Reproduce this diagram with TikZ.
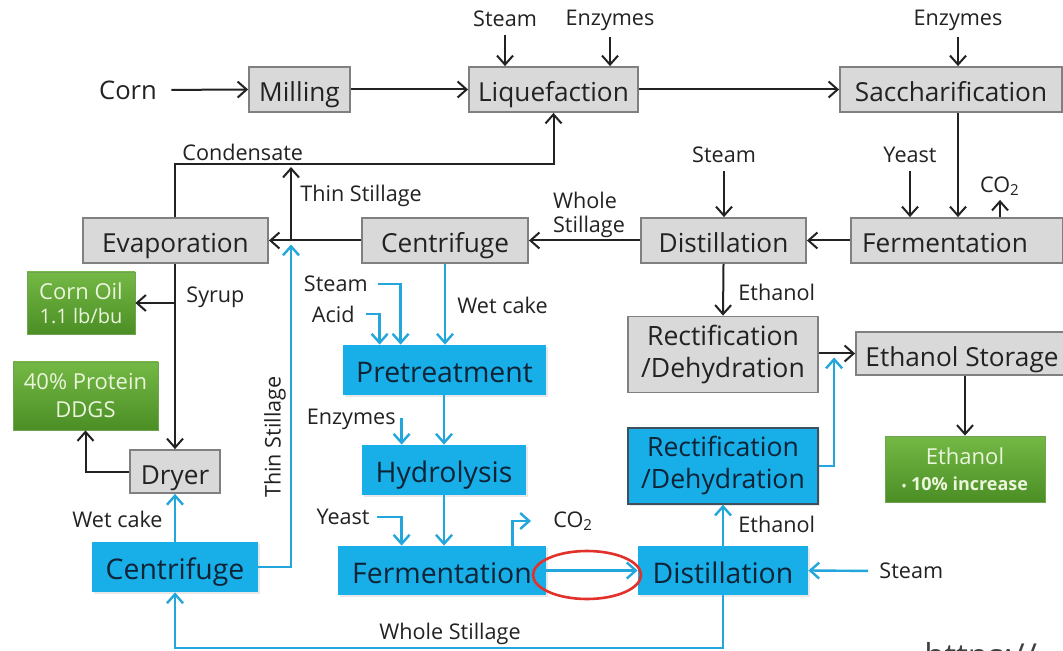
\documentclass[tikz,border=0pt]{standalone}
\usepackage{fontspec}
\setmainfont{Open Sans}
\usetikzlibrary{arrows.meta,calc,shadows}

\definecolor{boxgray}{HTML}{D9D9D9}
\definecolor{boxedge}{HTML}{808080}
\definecolor{procblue}{HTML}{18AEE8}
\definecolor{flowblue}{HTML}{22A6DC}
\definecolor{navytext}{HTML}{0E2436}
\definecolor{oiltop}{HTML}{74B845}
\definecolor{oilbot}{HTML}{4B8E25}
\definecolor{oiltext}{HTML}{EAF5DC}
\definecolor{inktext}{HTML}{222222}
\definecolor{ringred}{HTML}{E2302B}

\tikzset{
	wh/.style 2 args={minimum width=#1*0.5pt, minimum height=#2*0.5pt},
	oneline/.style={text height=12.5pt, text depth=0pt},
	graybox/.style={draw=boxedge, fill=boxgray, line width=0.9pt, inner sep=0pt, text=inktext, align=center, font=\fontsize{13.1}{16}\selectfont},
	bluebox/.style={fill=procblue, inner sep=0pt, text=navytext, align=center, font=\fontsize{14.2}{16}\selectfont, drop shadow={opacity=0.18, shadow xshift=0.8pt, shadow yshift=-0.8pt}},
	greenbox/.style={top color=oiltop, bottom color=oilbot, draw=oilbot!80!white, inner sep=0pt, text=oiltext, align=center, font=\fontsize{11}{14}\selectfont},
	lbl/.style={inner sep=0pt, text=inktext, font=\fontsize{10.8}{12}\selectfont},
	flow/.style={draw=inktext, line width=1pt, -{Straight Barb[length=4.5pt,width=8pt]}},
	bflow/.style={draw=flowblue, line width=1.2pt, -{Straight Barb[length=4.5pt,width=8pt]}},
}

\begin{document}
\begin{tikzpicture}[x=0.5pt, y=-0.5pt]
			%%%%% START %%%%%
			
			\fill[white] (0,0) rectangle (1063,651);
			\useasboundingbox (0,0) rectangle (1063,651);
			
			% dry grind line (grey)
			\node[lbl, font=\fontsize{12.8}{15}\selectfont] (corn) at (128,90) {Corn};
			\node[graybox, oneline, wh={101}{45}] (mill) at (299.5,89.5) {Milling};
			\node[graybox, oneline, wh={169}{45}] (liq) at (553.5,89.5) {Liquefaction};
			\node[graybox, oneline, wh={222}{45}] (sacch) at (951,89.5) {Saccharification};
			\node[graybox, oneline, wh={212}{45}] (ferm) at (957,240.5) {\hspace*{-12pt}Fermentation};
			\node[graybox, oneline, wh={165}{45}] (dist) at (723.5,240.5) {Distillation};
			\node[graybox, oneline, wh={166}{45}] (cent) at (445,240.5) {Centrifuge};
			\node[graybox, oneline, wh={185}{45}] (evap) at (175.5,240.5) {Evaporation};
			\node[graybox, oneline, wh={90}{43}] (dryer) at (175,471.5) {Dryer};
			\node[graybox, wh={190}{76}, font=\fontsize{13.3}{16}\selectfont] (rectg) at (723,354.5) {Rectification\\/Dehydration};
			\node[graybox, oneline, wh={212}{43}] (store) at (962,353.5) {Ethanol Storage};
			
			% products
			\node[greenbox, wh={108}{62}] (oil) at (81,303) {Corn Oil\\[-2pt]{\fontsize{10}{12}\selectfont 1.1 lb/bu}};
			\node[greenbox, wh={145}{68}] (ddgs) at (85.5,396) {40\% Protein\\DDGS};
			\node[greenbox, wh={160}{66}] (eth) at (965,469) {Ethanol\\[-1pt]{\bfseries\fontsize{9}{11}\selectfont{\fontsize{6}{7}\selectfont•} 10\% increase}};
			
			% cellulosic line (blue)
			\node[bluebox, oneline, wh={203}{50}] (pre) at (444.5,370) {Pretreatment};
			\node[bluebox, oneline, wh={164}{50}] (hyd) at (444,470) {Hydrolysis};
			\node[bluebox, oneline, wh={208}{49}] (fermb) at (442,570.5) {Fermentation};
			\node[bluebox, oneline, wh={170}{49}] (distb) at (723,570.5) {Distillation};
			\node[bluebox, wh={190}{76}, draw=navytext!80, line width=0.7pt, font=\fontsize{13.3}{16}\selectfont] (rectb) at (723,466) {Rectification\\/Dehydration};
			\node[bluebox, oneline, wh={166}{50}] (centb) at (175,567) {Centrifuge};
			
			% labels
			\node[lbl] (steamA) at (505,19) {Steam};
			\node[lbl] (enzA) at (610,20) {Enzymes};
			\node[lbl] (enzB) at (958,20) {Enzymes};
			\node[lbl] (steamB) at (724,155) {Steam};
			\node[lbl] (yeastA) at (910,155) {Yeast};
			\node[lbl] (co2A) at (1000,186) {CO\textsubscript{2}};
			\node[lbl, align=left] (wsA) at (589,215) {Whole\\Stillage};
			\node[lbl, anchor=west] (thinA) at (300,196) {Thin Stillage};
			\node[lbl, anchor=west] (condA) at (182,152) {Condensate};
			\node[lbl, anchor=west] (syrup) at (186,297) {Syrup};
			\node[lbl, anchor=west] (wetA) at (457,305) {Wet cake};
			\node[lbl, anchor=east] (steamC) at (368,284) {Steam};
			\node[lbl, anchor=east] (acid) at (355,314) {Acid};
			\node[lbl, anchor=east] (enzC) at (396,419) {Enzymes};
			\node[lbl, anchor=east] (yeastB) at (370,517) {Yeast};
			\node[lbl, anchor=west] (co2B) at (553,521) {CO\textsubscript{2}};
			\node[lbl, anchor=west] (ethA) at (738,292) {Ethanol};
			\node[lbl, anchor=west] (ethB) at (738,524) {Ethanol};
			\node[lbl, anchor=west] (steamD) at (879,571) {Steam};
			\node[lbl, anchor=east] (wetB) at (163,519) {Wet cake};
			\node[lbl, rotate=90] (thinB) at (275,437) {Thin Stillage};
			\node[lbl] (wsB) at (450,634) {Whole Stillage};
			\node[lbl, anchor=base west, text=black!75, font=\fontsize{16.5}{18}\selectfont] (url) at (924,667) {https://};
			
			\coordinate (tsfoot) at (291,240.5);
			\coordinate (tshead) at (291,167);
			\coordinate (condline) at (175,164);
			\coordinate (wsline) at (450,648);
			
			% grey connectors
			\draw[flow, shorten <=7pt] (corn.east) -- (mill.west);
			\draw[flow] (mill.east) -- (liq.west);
			\draw[flow] (liq.east) -- (sacch.west);
			\draw[flow, shorten <=4pt] (steamA.south) -- (steamA.south |- liq.north);
			\draw[flow, shorten <=3pt] (enzA.south) -- (enzA.south |- liq.north);
			\draw[flow, shorten <=3pt] (enzB.south) -- (enzB.south |- sacch.north);
			\draw[flow] (sacch.south -| enzB) -- (ferm.north -| enzB);
			\draw[flow, shorten <=4pt] (yeastA.south) -- (yeastA.south |- ferm.north);
			\draw[flow, shorten >=2pt] (co2A |- ferm.north) -- (co2A.south);
			\draw[flow] (ferm.west) -- (dist.east);
			\draw[flow, shorten <=4pt] (steamB.south) -- (steamB.south |- dist.north);
			\draw[flow] (dist.west) -- (cent.east);
			\draw[flow] (cent.west) -- (evap.east);
			\draw[flow] (tsfoot) -- (tshead);
			\draw[flow] (evap.north -| condline) -- (condline) -| (liq.south);
			\draw[flow] (evap.south -| dryer.north) -- (dryer.north);
			\draw[flow] (dryer.north |- oil.east) -- (oil.east);
			\draw[flow] (dryer.west) -| (ddgs.south);
			\draw[flow] (dist.south) -- (rectg.north);
			\draw[flow] (rectg.east |- store.west) -- (store.west);
			\draw[flow] (store.south -| eth.north) -- (eth.north);
			
			% blue connectors
			\draw[bflow] (cent.south) -- (cent.south |- pre.north);
			\draw[bflow, shorten <=5pt] (steamC.east) -| ($(pre.north west)+(58,0)$);
			\draw[bflow, shorten <=5.5pt] (acid.east) -| ($(pre.north west)+(37,0)$);
			\draw[bflow] (pre.south -| hyd.north) -- (hyd.north);
			\draw[bflow, shorten <=2pt] (enzC.east) -| ($(hyd.north west)+(40,0)$);
			\draw[bflow] (hyd.south) -- (hyd.south |- fermb.north);
			\draw[bflow, shorten <=3.5pt] (yeastB.east) -| ($(fermb.north west)+(64,0)$);
			\draw[bflow, shorten >=11pt] ($(fermb.north west)+(175,0)$) |- (co2B.west);
			\draw[bflow] (fermb.east) -- (distb.west);
			\draw[bflow, shorten <=5.5pt] (steamD.west) -- (distb.east);
			\draw[bflow] (distb.north) -- (rectb.south);
			\draw[bflow, shorten >=2pt] (rectb.east) -| ($(rectg.east |- store.west)!0.42!(store.west)$);
			\draw[bflow] (centb.north) -- (dryer.south);
			\draw[bflow, shorten >=2pt] (centb.east) -| (tsfoot);
			\draw[bflow] (distb.south) -- (distb.south |- wsline) -| (centb.south);
			
			\draw[ringred, line width=1.3pt] (587,575) ellipse [x radius=54, y radius=24];
			
			%%%%% END %%%%%
\end{tikzpicture}
\end{document}
